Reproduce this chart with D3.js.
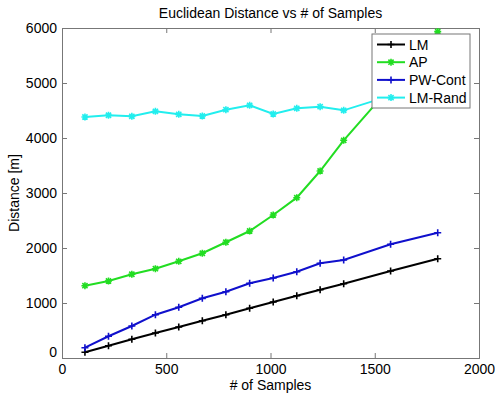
<!DOCTYPE html>
<html>
<head>
<meta charset="utf-8">
<script src="https://cdn.jsdelivr.net/npm/d3@7"></script>
<style>
  body { margin: 0; background: #fff; }
  text { font-family: Arial, "Liberation Sans", sans-serif; }
</style>
</head>
<body>
<svg id="chart"></svg>
<script>
var width = 495, height = 395;

// data
var samples = [110, 223, 335, 448, 560, 673, 786, 900, 1013, 1126, 1238, 1351, 1576, 1802];
var lm      = [104, 224, 340, 455, 564, 678, 787, 904, 1018, 1133, 1242, 1351, 1582, 1805];
var ap      = [1315, 1400, 1522, 1624, 1758, 1904, 2104, 2309, 2600, 2915, 3400, 3958, 4930, 5935];
var pwCont  = [187, 395, 582, 787, 922, 1085, 1205, 1358, 1455, 1569, 1722, 1782, 2067, 2278];
var lmRand  = [4382, 4413, 4394, 4485, 4430, 4400, 4515, 4594, 4436, 4539, 4570, 4503, 4770, 4880];
var seriesNames = ["LM", "AP", "PW-Cont", "LM-Rand"];
var xTicks = [0, 500, 1000, 1500, 2000];
var yTicks = [0, 1000, 2000, 3000, 4000, 5000, 6000];

var series = [
  {name: seriesNames[0], values: lm,     color: "#000000", marker: "plus"},
  {name: seriesNames[1], values: ap,     color: "#22dd22", marker: "star"},
  {name: seriesNames[2], values: pwCont, color: "#1010cc", marker: "plus"},
  {name: seriesNames[3], values: lmRand, color: "#22eeee", marker: "star"}
];

var margin = {top: 28, right: 16, bottom: 37, left: 62};
var w = width - margin.left - margin.right;
var h = height - margin.top - margin.bottom;

var svg = d3.select('#chart')
  .attr('width', width)
  .attr('height', height);

var g = svg.append('g')
  .attr('transform', 'translate(' + margin.left + ',' + margin.top + ')');

var x = d3.scaleLinear().domain([0, 2000]).range([0, w]);
var y = d3.scaleLinear().domain([0, 6000]).range([h, 0]);

var axisColor = "#777";

// box-style axes with inward ticks
var xBottom = g.append('g').attr('transform', 'translate(0,' + h + ')')
  .call(d3.axisBottom(x).tickValues(xTicks).tickSize(-5).tickPadding(6).tickFormat(d3.format('d')));
var xTop = g.append('g')
  .call(d3.axisTop(x).tickValues(xTicks).tickSize(-5).tickFormat(''));
var yLeft = g.append('g')
  .call(d3.axisLeft(y).tickValues(yTicks).tickSize(-5).tickPadding(5).tickFormat(d3.format('d')));
var yRight = g.append('g').attr('transform', 'translate(' + w + ',0)')
  .call(d3.axisRight(y).tickValues(yTicks).tickSize(-5).tickFormat(''));

[xBottom, xTop, yLeft, yRight].forEach(function(a) {
  a.select('.domain').attr('stroke', axisColor);
  a.selectAll('.tick line').attr('stroke', axisColor);
  a.selectAll('.tick text').attr('fill', '#000').style('font-size', '14px');
});
// MATLAB puts the y "0" slightly higher, x "0" lower
yLeft.selectAll('.tick text').filter(function(d) { return d === 0; }).attr('dy', '-0.1em');

// lines
var line = d3.line()
  .x(function(d, i) { return x(samples[i]); })
  .y(function(d) { return y(d); });

function drawMarker(sel, type, color) {
  var s = 3.5;
  var p = "M" + (-s) + ",0L" + s + ",0M0," + (-s) + "L0," + s;
  if (type === "star") {
    var t = 2.6;
    p += "M" + (-t) + "," + (-t) + "L" + t + "," + t + "M" + (-t) + "," + t + "L" + t + "," + (-t);
  }
  sel.append('path').attr('d', p).attr('stroke', color).attr('stroke-width', 1.6).attr('fill', 'none');
}

series.forEach(function(s) {
  g.append('path')
    .datum(s.values)
    .attr('fill', 'none')
    .attr('stroke', s.color)
    .attr('stroke-width', 2)
    .attr('d', line);
  g.selectAll(null)
    .data(s.values)
    .enter()
    .append('g')
    .attr('transform', function(d, i) { return 'translate(' + x(samples[i]) + ',' + y(d) + ')'; })
    .each(function() { drawMarker(d3.select(this), s.marker, s.color); });
});

// title and labels
svg.append('text')
  .attr('x', margin.left + w / 2)
  .attr('y', 18)
  .attr('text-anchor', 'middle')
  .style('font-size', '14px')
  .text('Euclidean Distance vs # of Samples');

svg.append('text')
  .attr('x', margin.left + w / 2)
  .attr('y', 390)
  .attr('text-anchor', 'middle')
  .style('font-size', '14px')
  .text('# of Samples');

svg.append('text')
  .attr('transform', 'translate(19,' + (margin.top + h / 2) + ') rotate(-90)')
  .attr('text-anchor', 'middle')
  .style('font-size', '14px')
  .text('Distance [m]');

// legend
var legend = svg.append('g').attr('transform', 'translate(372,34)');
legend.append('rect')
  .attr('width', 98).attr('height', 74)
  .attr('fill', '#fff').attr('stroke', axisColor);

var item = legend.selectAll(null)
  .data(series)
  .enter()
  .append('g')
  .attr('transform', function(d, i) { return 'translate(0,' + (10.5 + i * 17.7) + ')'; });
item.append('line')
  .attr('x1', 5).attr('x2', 33)
  .attr('stroke', function(d) { return d.color; })
  .attr('stroke-width', 2);
item.each(function(d) {
  var m = d3.select(this).append('g').attr('transform', 'translate(19,0)');
  drawMarker(m, d.marker, d.color);
});
item.append('text')
  .attr('x', 37).attr('y', 5)
  .style('font-size', '14px')
  .text(function(d) { return d.name; });
</script>
</body>
</html>
